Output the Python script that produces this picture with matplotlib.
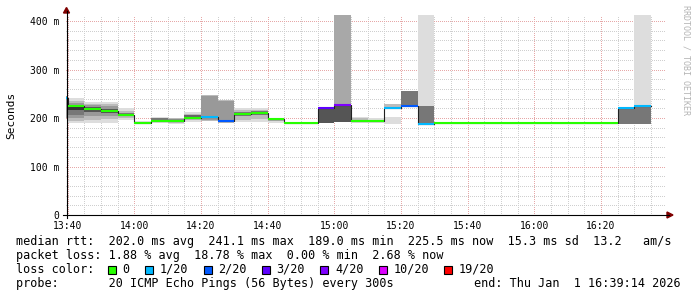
"""SmokePing style latency graph: median rtt with loss colours over ping smoke."""
import matplotlib

matplotlib.use("Agg")
import matplotlib.pyplot as plt  # noqa: E402
import numpy as np  # noqa: E402
from matplotlib.lines import Line2D  # noqa: E402
from matplotlib.patches import Polygon, Rectangle  # noqa: E402
from matplotlib.ticker import FixedLocator, FuncFormatter  # noqa: E402
from matplotlib.transforms import Affine2D  # noqa: E402

# --- data (5 minute samples, start of each step) ----------------------------
sample_start = ["13:35", "13:40", "13:45", "13:50", "13:55", "14:00", "14:05", "14:10",
                "14:15", "14:20", "14:25", "14:30", "14:35", "14:40", "14:45", "14:50",
                "14:55", "15:00", "15:05", "15:10", "15:15", "15:20", "15:25", "15:30",
                "15:35", "15:40", "15:45", "15:50", "15:55", "16:00", "16:05", "16:10",
                "16:15", "16:20", "16:25", "16:30"]
median_ms = [241.1, 225, 218, 215, 207, 189, 193, 193,
             201, 203, 194, 208, 210, 197, 189, 189,
             220, 227, 194, 193, 221, 225, 188, 189,
             189, 189, 189, 189, 189, 189, 189, 189,
             189, 189, 220, 225.5]
lost_pings = [1, 0, 0, 0, 0, 0, 0, 0,
              0, 1, 2, 0, 0, 0, 0, 0,
              3, 4, 0, 0, 1, 2, 1, 0,
              0, 0, 0, 0, 0, 0, 0, 0,
              0, 0, 1, 1]

# smoke bands: one rectangle per entry (inf = ping above the graph top)
band_start = ["13:35",
              "13:40", "13:40", "13:40", "13:40", "13:40",
              "13:45", "13:45", "13:45", "13:45",
              "13:50", "13:50", "13:50", "13:50",
              "13:55", "13:55", "13:55",
              "14:00",
              "14:05", "14:05", "14:05",
              "14:10", "14:10", "14:10",
              "14:15", "14:15", "14:15",
              "14:20", "14:20",
              "14:25", "14:25",
              "14:30", "14:30", "14:30",
              "14:35", "14:35", "14:35",
              "14:40", "14:40",
              "14:55",
              "15:00", "15:00",
              "15:05", "15:05",
              "15:10",
              "15:15", "15:15",
              "15:20",
              "15:25", "15:25",
              "16:25",
              "16:30", "16:30"]
band_lo = [200,
           189, 194, 199, 207, 216,
           189, 196, 204, 212,
           190, 197, 205, 211,
           196, 200, 204,
           187,
           189, 191, 195,
           187, 190, 194,
           192, 195, 199,
           194, 196,
           189, 191,
           191, 196, 204,
           191, 197, 206,
           190, 193,
           189,
           191, 191,
           189, 191,
           190,
           188, 219,
           225,
           188, 188,
           188,
           188, 188]
band_hi = [246,
           241, 235, 230, 225, 222,
           233, 229, 226, 222,
           233, 229, 224, 219,
           220, 215, 211,
           193,
           203, 200, 199,
           201, 199, 198,
           212, 209, 206,
           247, 245,
           238, 236,
           220, 217, 213,
           221, 217, 215,
           201, 200,
           220,
           np.inf, 227,
           202, 199,
           199,
           203, 228,
           256,
           np.inf, 225,
           221,
           np.inf, 222]
band_gray = [0x99,
             0xdd, 0xbb, 0x99, 0x77, 0x33,
             0xdd, 0xbb, 0x99, 0x55,
             0xdd, 0xbb, 0x99, 0x55,
             0xdd, 0xbb, 0x77,
             0xdd,
             0xdd, 0xbb, 0x77,
             0xdd, 0xbb, 0x88,
             0xdd, 0xbb, 0x66,
             0xbb, 0x99,
             0xbb, 0x99,
             0xdd, 0xbb, 0x77,
             0xdd, 0xbb, 0x77,
             0xdd, 0xaa,
             0x55,
             0xa8, 0x55,
             0xdd, 0xbb,
             0xdd,
             0xdd, 0xbb,
             0x77,
             0xdd, 0x77,
             0x77,
             0xdd, 0x77]

loss_steps = [0, 1, 2, 3, 4, 10, 19]
loss_labels = ["0", "1/20", "2/20", "3/20", "4/20", "10/20", "19/20"]
loss_colors = ["#26ff00", "#00b8ff", "#0059ff", "#5e00ff", "#7e00ff", "#dd00ff", "#ff0000"]

x_ticks = ["13:40", "14:00", "14:20", "14:40", "15:00", "15:20", "15:40", "16:00", "16:20"]
y_ticks = [0, 100, 200, 300, 400]

rtt_line = "median rtt:  202.0 ms avg  241.1 ms max  189.0 ms min  225.5 ms now  15.3 ms sd  13.2   am/s"
loss_line = "packet loss: 1.88 % avg  18.78 % max  0.00 % min  2.68 % now"
probe_line = "probe:       20 ICMP Echo Pings (56 Bytes) every 300s"
end_line = "end: Thu Jan  1 16:39:14 2026"

STEP = 5  # minutes


def to_min(hhmm):
    h, m = hhmm.split(":")
    return int(h) * 60 + int(m)


def loss_color(lost):
    idx = max(i for i, s in enumerate(loss_steps) if s <= max(lost, 0))
    return loss_colors[idx]


W, H, DPI = 697, 297, 100
MONO = "DejaVu Sans Mono"
fig = plt.figure(figsize=(W / DPI, H / DPI), dpi=DPI, facecolor="white")
pix = Affine2D().scale(1 / W, -1 / H).translate(0, 1) + fig.transFigure

L, R, T, B = 66, 666, 15, 215
ax = fig.add_axes([L / W, 1 - B / H, (R - L) / W, (B - T) / H])
ax.set_facecolor("white")
x0 = to_min("13:39") + 0.5
ax.set_xlim(x0, x0 + 180)
ymax = 412.4
ax.set_ylim(0, ymax)
for s in ax.spines.values():
    s.set_visible(False)

# grid (dotted, like rrdtool)
major_x = [to_min(t) for t in x_ticks]
minor_x = [m for m in range(820, 1000, STEP) if m not in major_x]
ax.xaxis.set_major_locator(FixedLocator(major_x))
ax.xaxis.set_minor_locator(FixedLocator(minor_x))
ax.yaxis.set_major_locator(FixedLocator(y_ticks))
ax.yaxis.set_minor_locator(FixedLocator([v for v in range(0, 420, 20) if v not in y_ticks]))
ax.xaxis.set_major_formatter(FuncFormatter(lambda v, p: f"{int(v) // 60}:{int(v) % 60:02d}"))
ax.yaxis.set_major_formatter(FuncFormatter(lambda v, p: "0" if v == 0 else f"{int(v)} m"))
ax.grid(True, which="major", color="#e6a8a8", linestyle=(0, (1, 2)), linewidth=0.72,
        antialiased=False)
ax.grid(True, which="minor", color="#cfcfcf", linestyle=(0, (1, 2)), linewidth=0.72,
        antialiased=False)
ax.set_axisbelow(True)
ax.tick_params(which="both", length=0)
ax.tick_params(axis="x", pad=4.5, labelsize=7)
ax.tick_params(axis="y", pad=5, labelsize=7)
for lab in ax.get_xticklabels() + ax.get_yticklabels():
    lab.set_family(MONO)

# smoke
for start, lo, hi, g in zip(band_start, band_lo, band_hi, band_gray):
    top = min(hi, ymax + 5)
    ax.bar(to_min(start), top - lo, bottom=lo, width=STEP, align="edge",
           color=f"#{g:02x}{g:02x}{g:02x}", linewidth=0, zorder=2)

# median: thin dark step line plus loss coloured segments
starts = np.array([to_min(t) for t in sample_start], dtype=float)
xs = np.append(starts, starts[-1] + STEP)
ys = np.append(median_ms, median_ms[-1])
ax.step(xs, ys, where="post", color="#202020", linewidth=0.8, zorder=3)
ax.hlines(median_ms, starts, starts + STEP, colors=[loss_color(v) for v in lost_pings],
          linewidth=1.5, zorder=4)

# axes with arrows
fig.add_artist(Line2D([63, 669], [215, 215], color="black", linewidth=0.8, transform=pix))
fig.add_artist(Line2D([66.5, 66.5], [218, 11], color="black", linewidth=0.8, transform=pix))
fig.add_artist(Polygon([[667, 212], [673, 215], [667, 218]], closed=True, color="#7f0000",
                       transform=pix))
fig.add_artist(Polygon([[63.5, 13], [66.5, 7.5], [69.5, 13]], closed=True, color="#7f0000",
                       transform=pix))

# labels
fig.text(11, 115, "Seconds", rotation=90, ha="center", va="center", fontsize=8,
         family=MONO, transform=pix)
fig.text(686, 5, "RRDTOOL / TOBI OETIKER", rotation=270, ha="center", va="top",
         fontsize=6, family=MONO, color="#b4b4b4", transform=pix)

# legend block
TX = 16
CW = 7.08
fs = 8.5
fig.text(TX, 241.5, rtt_line, ha="left", va="center", fontsize=fs, family=MONO, transform=pix)
fig.text(TX, 255.5, loss_line, ha="left", va="center", fontsize=fs, family=MONO, transform=pix)
fig.text(TX, 269.5, "loss color:", ha="left", va="center", fontsize=fs, family=MONO,
         transform=pix)
fig.text(TX, 283.5, probe_line, ha="left", va="center", fontsize=fs, family=MONO, transform=pix)
fig.text(681, 283.5, end_line, ha="right", va="center", fontsize=fs, family=MONO,
         transform=pix)

sx = TX + 13 * CW
for lab, col in zip(loss_labels, loss_colors):
    fig.add_artist(Rectangle((sx, 265.5), 8, 8, facecolor=col, edgecolor="black",
                             linewidth=0.8, transform=pix))
    fig.text(sx + 14.6, 269.5, lab, ha="left", va="center", fontsize=fs, family=MONO,
             transform=pix)
    sx += 14.6 + len(lab) * CW + 15.5

fig.savefig("out.png", dpi=DPI, facecolor="white")
